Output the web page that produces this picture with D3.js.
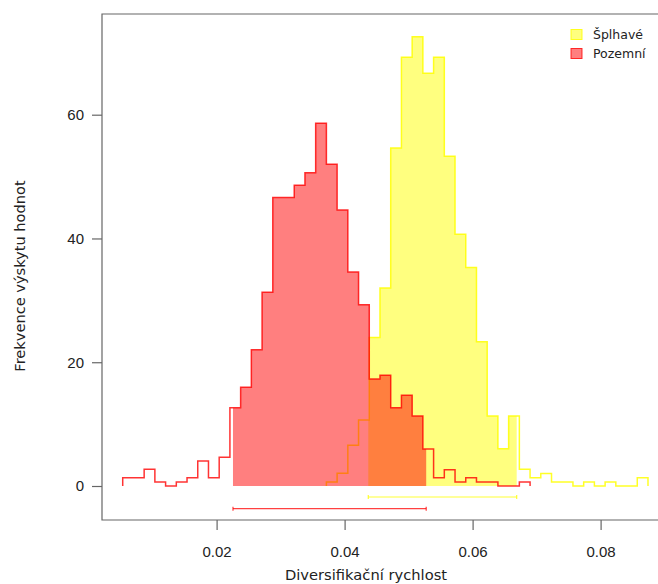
<!DOCTYPE html>
<html>
<head>
<meta charset="utf-8">
<script src="https://cdn.jsdelivr.net/npm/d3@7"></script>
<style>
  html, body { margin: 0; padding: 0; background: #fff; }
  svg { display: block; }
</style>
</head>
<body>
<div id="chart"></div>
<script>
// Histogram bins shared by both groups
const binStart = 0.00533;
const binWidth = 0.001675;

// Ground-dwelling group: densities for bins 0..37
const pozemniFirstBin = 0;
const pozemniDensity = [1.34, 1.34, 2.7, 0.65, 0, 0.65, 1.34, 4.04, 1.34, 4.64,
  12.65, 15.95, 22.0, 31.3, 46.6, 46.6, 48.6, 50.6, 58.6, 52.0,
  44.6, 34.6, 29.3, 17.3, 17.9, 12.65, 14.65, 11.3, 5.98, 1.34,
  2.64, 0.65, 1.34, 0.65, 0.65, 0, 0, 0.65];

// Climbing group: densities for bins 19..48
const splhaveFirstBin = 19;
const splhaveDensity = [0.65, 2.05, 6.6, 10.66, 24.0, 32.0, 54.6, 69.3, 72.6, 66.7,
  69.3, 53.3, 40.7, 35.3, 23.3, 11.3, 6.0, 11.3, 2.7, 1.34,
  2.0, 0.65, 0.65, 0, 0.65, 0, 0.65, 0, 0, 1.34];

// 95% intervals (shaded part and bars under the axis)
const pozemniInterval = [0.02256, 0.05275];
const splhaveInterval = [0.04370, 0.06689];

const xTicks = [0.02, 0.04, 0.06, 0.08];
const yTicks = [0, 20, 40, 60];
const legendLabels = ["Šplhavé", "Pozemní"];

const W = 658, H = 584;
const svg = d3.select("#chart").append("svg").attr("width", W).attr("height", H);

const x = d3.scaleLinear().domain([0.02, 0.08]).range([216.6, 600.6]);
const y = d3.scaleLinear().domain([0, 60]).range([486, 114.7]);

const frame = { left: 102, top: 14, bottom: 520, right: 662 };

// step outline vertices for a run of bins
function stepPoints(first, dens) {
  const pts = [[binStart + first * binWidth, 0]];
  dens.forEach((d, i) => {
    const a = binStart + (first + i) * binWidth;
    pts.push([a, d], [a + binWidth, d]);
  });
  pts.push([binStart + (first + dens.length) * binWidth, 0]);
  return pts;
}

const line = d3.line().x(d => x(d[0])).y(d => y(d[1]));
const area = d3.area().x(d => x(d[0])).y0(y(0)).y1(d => y(d[1]));

const defs = svg.append("defs");
function clipFor(id, iv) {
  defs.append("clipPath").attr("id", id).append("rect")
    .attr("x", x(iv[0])).attr("y", 0)
    .attr("width", x(iv[1]) - x(iv[0])).attr("height", y(0));
}
clipFor("clip-splhave", splhaveInterval);
clipFor("clip-pozemni", pozemniInterval);

const sPts = stepPoints(splhaveFirstBin, splhaveDensity);
const pPts = stepPoints(pozemniFirstBin, pozemniDensity);

// climbing: shaded interval then outline
svg.append("path").attr("d", area(sPts))
  .attr("fill", "rgba(255,255,0,0.5)").attr("clip-path", "url(#clip-splhave)");
svg.append("path").attr("d", line(sPts))
  .attr("fill", "none").attr("stroke", "rgba(255,255,0,0.85)").attr("stroke-width", 1.5);

// ground-dwelling: shaded interval then outline
svg.append("path").attr("d", area(pPts))
  .attr("fill", "rgba(255,0,0,0.5)").attr("clip-path", "url(#clip-pozemni)");
svg.append("path").attr("d", line(pPts))
  .attr("fill", "none").attr("stroke", "rgba(255,0,0,0.8)").attr("stroke-width", 1.5);

// interval bars below the baseline
function intervalBar(iv, yy, color) {
  const g = svg.append("g").attr("stroke", color).attr("stroke-width", 1.2);
  g.append("line").attr("x1", x(iv[0])).attr("x2", x(iv[1])).attr("y1", yy).attr("y2", yy);
  [iv[0], iv[1]].forEach(v => g.append("line")
    .attr("x1", x(v)).attr("x2", x(v)).attr("y1", yy - 2).attr("y2", yy + 2));
}
intervalBar(splhaveInterval, y(0) + 11, "rgba(255,255,0,0.8)");
intervalBar(pozemniInterval, y(0) + 22.7, "rgba(255,0,0,0.75)");

// frame
svg.append("path")
  .attr("d", `M${frame.right},${frame.top}H${frame.left}V${frame.bottom}H${frame.right}`)
  .attr("fill", "none").attr("stroke", "#666").attr("stroke-width", 1.2);

// axes
const xAxis = d3.axisBottom(x).tickValues(xTicks).tickSize(10).tickPadding(16)
  .tickFormat(d3.format(".2f"));
const gx = svg.append("g").attr("transform", `translate(0,${frame.bottom})`).call(xAxis);
gx.select(".domain").remove();

const yAxis = d3.axisLeft(y).tickValues(yTicks).tickSize(10).tickPadding(8)
  .tickFormat(d3.format("d"));
const gy = svg.append("g").attr("transform", `translate(${frame.left},0)`).call(yAxis);
gy.select(".domain").remove();

[gx, gy].forEach(g => {
  g.selectAll(".tick line").attr("stroke", "#666").attr("stroke-width", 1.2);
  g.selectAll(".tick text").attr("fill", "#222")
    .style("font-family", "'Liberation Sans', Arial, sans-serif").style("font-size", "15px");
});

// axis titles
svg.append("text").attr("x", 366).attr("y", 579.5).attr("text-anchor", "middle")
  .style("font-family", "'DejaVu Sans', Verdana, sans-serif").style("font-size", "14.7px")
  .attr("fill", "#222").text("Diversifikační rychlost");
svg.append("text").attr("transform", "translate(24.5,276) rotate(-90)").attr("text-anchor", "middle")
  .style("font-family", "'DejaVu Sans', Verdana, sans-serif").style("font-size", "14.6px")
  .attr("fill", "#222").text("Frekvence výskytu hodnot");

// legend
const legendFill = ["rgba(255,255,0,0.5)", "rgba(255,0,0,0.5)"];
const legendStroke = ["rgba(255,255,0,0.85)", "rgba(255,0,0,0.8)"];
const lg = svg.append("g");
legendLabels.forEach((lab, i) => {
  lg.append("rect").attr("x", 571).attr("y", 29.5 + i * 19).attr("width", 11).attr("height", 10)
    .attr("fill", legendFill[i]).attr("stroke", legendStroke[i]).attr("stroke-width", 1);
  lg.append("text").attr("x", 593).attr("y", 38.8 + i * 19)
    .style("font-family", "'DejaVu Sans', Verdana, sans-serif").style("font-size", "12.5px")
    .attr("fill", "#222").text(lab);
});
</script>
</body>
</html>
